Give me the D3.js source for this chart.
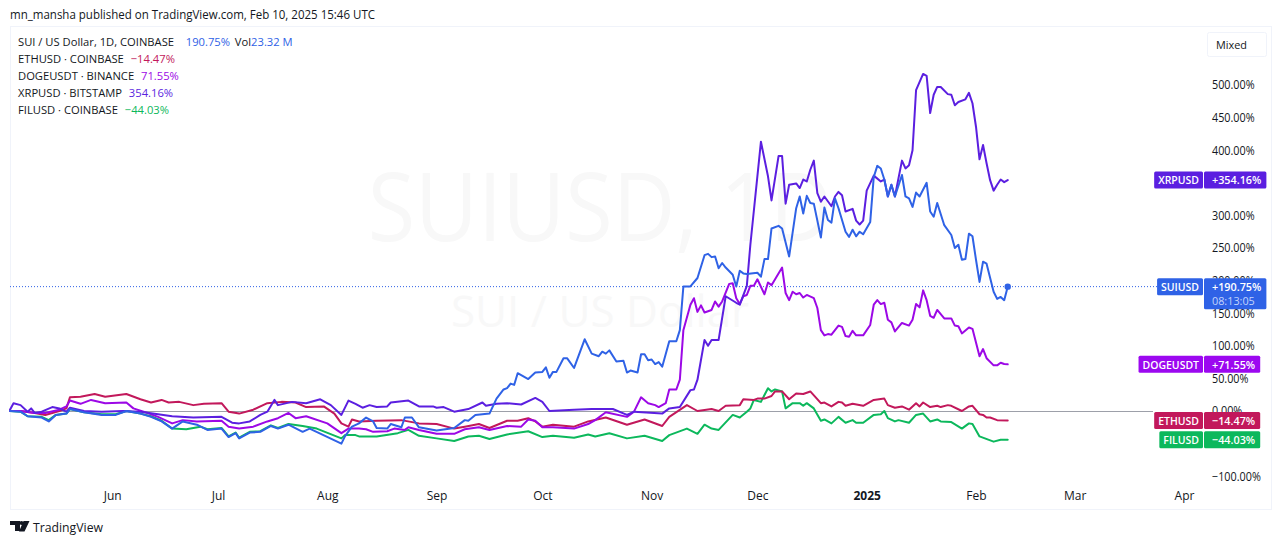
<!DOCTYPE html>
<html>
<head>
<meta charset="utf-8">
<script src="https://d3js.org/d3.v7.min.js"></script>
<style>
  html, body { margin: 0; padding: 0; background: #fff; }
  svg { display: block; }
  text { font-family: "Open Sans", "Noto Sans", sans-serif; }
</style>
</head>
<body>
<svg id="chart"></svg>
<script>
// [days since 3 May 2024, % change]
const suiPoints = [[0,0],[3,-1],[5,-8],[9,-10],[11,-16],[13,-6],[16,-4],[17,3],[21,-2],[26,-6],[30,-6],[33,0],[37,-4],[40,-9],[43,-16],[46,-27],[49,-16],[53,-21],[56,-29],[60,-27],[62,-40],[64,-34],[65,-42],[68,-33],[71,-32],[74,-23],[76,-27],[79,-21],[83,-32],[85,-27],[94,-50],[95,-39],[97,-24],[99,-19],[101,-10],[103,-16],[104,-26],[107,-27],[108,-20],[111,-25],[112,-10],[114,-10],[116,-25],[121,-30],[126,-26],[129,-14],[130,-15],[132,-6],[136,-4],[138,19],[140,33],[141,35],[142,42],[143,40],[144,58],[147,49],[149,59],[151,60],[152,67],[153,51],[154,60],[155,60],[157,81],[158,81],[160,66],[163,110],[165,88],[167,84],[168,91],[169,88],[170,93],[172,76],[174,77],[175,59],[176,62],[178,59],[179,87],[180,87],[181,78],[182,79],[183,72],[184,75],[185,68],[187,107],[189,107],[190,124],[191,191],[193,191],[195,204],[197,239],[198,241],[199,236],[200,237],[201,219],[202,227],[203,220],[205,209],[206,191],[207,215],[208,211],[209,210],[212,212],[213,206],[214,233],[215,233],[216,280],[218,284],[219,280],[221,237],[223,311],[224,329],[225,303],[226,330],[227,319],[228,318],[230,266],[231,312],[232,293],[233,289],[234,326],[235,311],[237,275],[238,267],[239,278],[240,268],[241,275],[242,271],[244,290],[245,359],[246,376],[247,372],[248,355],[249,329],[250,347],[251,329],[253,362],[254,329],[255,326],[256,313],[257,335],[258,329],[260,350],[261,306],[262,298],[263,319],[265,285],[267,270],[268,250],[269,255],[270,232],[271,233],[272,272],[273,268],[274,232],[275,198],[276,229],[277,226],[279,183],[280,172],[281,175],[282,170],[283,190.75]];
const ethPoints = [[0,0],[3,0],[7,-3],[10,-6],[14,0],[16,4],[17,21],[20,22],[24,26],[27,22],[33,26],[37,18],[40,13],[43,17],[45,13],[48,14],[52,9],[55,11],[60,12],[62,-1],[65,-4],[69,2],[73,12],[77,14],[81,13],[84,6],[89,7],[92,-4],[94,-19],[96,-24],[97,-13],[99,-16],[104,-15],[111,-14],[116,-19],[121,-20],[126,-27],[129,-24],[133,-20],[136,-26],[141,-15],[144,-15],[147,-11],[149,-16],[151,-24],[154,-21],[160,-24],[164,-16],[169,-10],[175,-21],[180,-13],[185,-23],[187,-9],[192,9],[195,0],[199,3],[201,0],[203,8],[207,9],[208,18],[211,17],[212,19],[214,19],[216,23],[217,30],[219,30],[221,18],[223,27],[225,26],[227,30],[230,12],[231,13],[233,7],[235,14],[236,13],[237,8],[239,11],[242,8],[245,17],[248,19],[249,9],[251,5],[253,7],[255,2],[257,12],[258,7],[259,13],[261,6],[263,8],[264,6],[266,9],[267,8],[270,0],[272,7],[273,8],[275,-5],[276,-6],[277,-10],[278,-10],[280,-14],[283,-14.47]];
const dogePoints = [[0,0],[3,0],[7,-3],[10,-3],[14,2],[16,7],[17,16],[20,11],[23,17],[27,12],[33,13],[35,4],[39,-3],[42,-9],[46,-19],[49,-14],[53,-16],[60,-15],[62,-24],[65,-27],[69,-24],[73,-16],[76,-11],[79,-3],[81,-11],[84,-8],[90,-19],[94,-34],[96,-27],[99,-27],[101,-28],[103,-32],[107,-31],[109,-27],[112,-29],[113,-25],[116,-29],[121,-35],[126,-35],[129,-28],[133,-25],[136,-29],[141,-23],[145,-24],[147,-13],[149,-15],[151,-25],[154,-25],[160,-27],[164,-20],[166,-14],[169,-2],[175,-9],[177,-1],[179,21],[181,12],[183,9],[184,6],[186,12],[187,33],[189,33],[190,48],[191,124],[193,163],[194,173],[195,152],[196,162],[197,151],[199,155],[200,168],[201,160],[202,168],[204,195],[205,196],[206,173],[207,164],[208,176],[209,178],[210,192],[211,192],[212,202],[214,179],[215,197],[216,193],[219,220],[220,181],[221,170],[222,183],[223,179],[224,181],[225,174],[226,178],[228,173],[229,158],[230,124],[231,116],[232,118],[233,117],[235,131],[236,129],[237,115],[238,114],[239,123],[240,116],[242,116],[244,132],[245,163],[246,170],[247,164],[248,166],[249,140],[250,136],[251,122],[253,135],[255,131],[256,140],[257,164],[258,159],[259,185],[260,170],[261,146],[262,143],[263,155],[265,142],[267,142],[268,131],[269,130],[270,119],[272,128],[273,126],[275,84],[276,95],[277,81],[279,70],[280,70],[281,74],[282,72],[283,71.55]];
const xrpPoints = [[0,2],[1,12],[3,9],[5,-1],[6,4],[7,-3],[9,-1],[12,6],[14,4],[16,-1],[17,5],[21,0],[26,-1],[32,0],[37,-1],[42,-5],[46,-8],[52,-10],[60,-9],[63,-18],[65,-19],[68,-16],[71,-6],[73,-1],[75,17],[76,9],[80,14],[84,12],[88,18],[91,9],[94,-6],[96,16],[98,11],[100,5],[102,9],[104,6],[107,7],[108,13],[113,16],[116,7],[120,7],[121,5],[123,6],[126,-1],[130,3],[134,13],[135,8],[138,11],[141,12],[145,10],[149,20],[151,14],[153,0],[160,2],[165,3],[171,3],[175,-6],[177,-1],[185,-4],[187,4],[190,6],[193,32],[194,33],[195,48],[197,109],[198,100],[199,109],[201,109],[203,176],[206,166],[207,163],[209,192],[210,255],[213,413],[215,360],[216,323],[218,391],[219,391],[220,318],[221,347],[223,349],[224,342],[225,355],[226,352],[227,370],[228,384],[229,334],[230,321],[231,329],[233,314],[234,329],[235,336],[236,331],[237,306],[239,310],[240,292],[241,286],[242,292],[243,338],[245,361],[247,352],[248,355],[249,329],[250,347],[251,329],[253,384],[254,372],[255,377],[256,400],[257,492],[259,517],[260,514],[261,457],[262,485],[263,497],[264,497],[266,486],[267,485],[268,469],[269,474],[271,478],[272,488],[273,472],[274,436],[275,386],[276,408],[277,380],[278,354],[279,338],[280,347],[281,355],[282,351],[283,354.16]];
const filPoints = [[0,0],[3,-1],[5,-8],[9,-9],[11,-14],[13,-6],[16,-4],[17,3],[21,-2],[26,-5],[30,-5],[33,0],[37,-4],[40,-8],[43,-15],[46,-27],[50,-28],[54,-24],[56,-28],[60,-26],[62,-39],[64,-33],[65,-41],[68,-32],[71,-31],[74,-22],[76,-26],[79,-20],[83,-23],[87,-27],[94,-42],[95,-37],[98,-37],[99,-39],[104,-39],[110,-34],[113,-29],[116,-38],[121,-42],[126,-46],[130,-39],[133,-38],[136,-43],[141,-36],[147,-31],[151,-40],[154,-38],[160,-41],[164,-36],[166,-39],[170,-34],[175,-42],[180,-38],[185,-46],[187,-37],[192,-27],[195,-35],[197,-21],[199,-27],[201,-29],[205,-6],[207,-10],[209,-1],[210,4],[211,17],[213,14],[215,35],[216,30],[217,33],[219,30],[220,4],[222,12],[224,12],[225,8],[226,12],[228,4],[230,-15],[231,-13],[233,-19],[235,-9],[237,-18],[239,-14],[240,-18],[242,-18],[245,-6],[247,-5],[248,0],[249,-11],[251,-16],[252,-14],[255,-18],[257,-6],[259,-4],[261,-16],[263,-13],[264,-16],[267,-17],[270,-27],[272,-19],[273,-20],[275,-39],[279,-47],[281,-44],[283,-44.03]];

// 350 and -50 sit fully under the badges in the picture, so they are not listed
const yTicks = [-100, 0, 50, 100, 150, 200, 250, 300, 400, 450, 500];
const xTickDates = ["2024-06-01","2024-07-01","2024-08-01","2024-09-01","2024-10-01","2024-11-01","2024-12-01","2025-01-01","2025-02-01","2025-03-01","2025-04-01"];
const xTickLabels = ["Jun","Jul","Aug","Sep","Oct","Nov","Dec","2025","Feb","Mar","Apr"];

const legendNames = ["SUI / US Dollar, 1D, COINBASE","ETHUSD · COINBASE","DOGEUSDT · BINANCE","XRPUSD · BITSTAMP","FILUSD · COINBASE"];
const legendValues = ["190.75%","−14.47%","71.55%","354.16%","−44.03%"];
const badgeNames = ["FILUSD","ETHUSD","DOGEUSDT","XRPUSD","SUIUSD"];
const badgeValues = [-44.03, -14.47, 71.55, 354.16, 190.75];
const badgeLabels = ["−44.03%","−14.47%","+71.55%","+354.16%","+190.75%"];

const colors = { sui: "#2f62e6", eth: "#c2185b", doge: "#9c08e6", xrp: "#5b1fe0", fil: "#0cb85c" };

const width = 1281, height = 545;
const svg = d3.select("#chart").attr("width", width).attr("height", height);

const startDate = new Date(Date.UTC(2024, 4, 3));
const toDate = day => d3.utcDay.offset(startDate, day);

const x = d3.scaleUtc().domain([startDate, new Date(Date.UTC(2025, 3, 1))]).range([10, 1184]);
const y = d3.scaleLinear().domain([-100, 500]).range([476.2, 85]);

// the installed fonts run wider than the reference one, so narrow the glyphs a bit
function squeeze(selection, factor) {
  selection.each(function() {
    this.setAttribute("textLength", this.getComputedTextLength() * factor);
    this.setAttribute("lengthAdjust", "spacingAndGlyphs");
  });
  return selection;
}

// header
svg.append("text").attr("x", 10).attr("y", 19).attr("font-size", 12.5).attr("fill", "#131722")
  .attr("textLength", 365).attr("lengthAdjust", "spacingAndGlyphs")
  .text("mn_mansha published on TradingView.com, Feb 10, 2025 15:46 UTC");

// frame
svg.append("rect").attr("x", 10.5).attr("y", 26.5).attr("width", 1261).attr("height", 483)
  .attr("fill", "#fff").attr("stroke", "#f0f3fa");

// watermark
squeeze(svg.append("text").attr("x", 600).attr("y", 241).attr("text-anchor", "middle")
  .attr("font-size", 95).attr("fill", "#f8f8f8").text("SUIUSD, 1D"), 0.91);
svg.append("text").attr("x", 600).attr("y", 327).attr("text-anchor", "middle")
  .attr("font-size", 44).attr("fill", "#f8f8f8").text("SUI / US Dollar");

// axes
const yAxis = d3.axisRight(y).tickValues(yTicks).tickSize(0).tickPadding(0)
  .tickFormat(d => (d < 0 ? "−" + Math.abs(d) : d) + ".00%");
const yG = svg.append("g").attr("transform", "translate(1212,0)").call(yAxis);
yG.select(".domain").remove();
squeeze(yG.selectAll("text").attr("font-size", 12).attr("fill", "#131722"), 0.9);

const xAxis = d3.axisBottom(x).tickValues(xTickDates.map(d => new Date(d))).tickSize(0).tickPadding(0)
  .tickFormat((d, i) => xTickLabels[i]);
const xG = svg.append("g").attr("transform", "translate(0,491)").call(xAxis);
xG.select(".domain").remove();
xG.selectAll("text").attr("font-size", 12).attr("fill", "#131722")
  .attr("font-weight", (d, i) => xTickLabels[i] === "2025" ? 700 : 400);

// baseline and last price line
svg.append("line").attr("x1", 10).attr("x2", 1153).attr("y1", 0.5 + Math.floor(y(0))).attr("y2", 0.5 + Math.floor(y(0)))
  .attr("stroke", "#9da0a9").attr("stroke-width", 1);
svg.append("line").attr("x1", 10).attr("x2", 1157).attr("y1", y(190.75)).attr("y2", y(190.75))
  .attr("stroke", colors.sui).attr("stroke-width", 1).attr("stroke-dasharray", "1,2");

// series
const line = d3.line().x(d => x(toDate(d[0]))).y(d => y(d[1]));
[[filPoints, colors.fil], [ethPoints, colors.eth], [dogePoints, colors.doge], [xrpPoints, colors.xrp], [suiPoints, colors.sui]]
  .forEach(([points, color]) => {
    svg.append("path").datum(points)
      .attr("fill", "none").attr("stroke", color).attr("stroke-width", 2)
      .attr("stroke-linejoin", "round").attr("stroke-linecap", "round")
      .attr("d", line);
  });

svg.append("circle").attr("cx", x(toDate(283))).attr("cy", y(190.75)).attr("r", 3.2).attr("fill", colors.sui);

// legend
const legendColors = [colors.sui, colors.eth, colors.doge, colors.xrp, colors.fil];
const legend = svg.append("g").selectAll("text").data(legendNames).join("text")
  .attr("transform", (d, i) => `translate(18,${46 + i * 17}) scale(0.975,1)`)
  .attr("font-size", 11.5).attr("fill", "#131722");
legend.append("tspan").text(d => d);
legend.append("tspan").attr("dx", (d, i) => i === 0 ? 12 : 7).attr("fill", (d, i) => legendColors[i]).text((d, i) => legendValues[i]);
legend.filter((d, i) => i === 0).append("tspan").attr("dx", 5).text("Vol");
legend.filter((d, i) => i === 0).append("tspan").attr("fill", colors.sui).text("23.32 M");

// Mixed button
svg.append("rect").attr("x", 1207.5).attr("y", 32.5).attr("width", 59).attr("height", 24).attr("rx", 2)
  .attr("fill", "#fff").attr("stroke", "#f0f3fa");
svg.append("text").attr("x", 1216).attr("y", 49).attr("font-size", 11.5).attr("fill", "#131722")
  .attr("textLength", 31).attr("lengthAdjust", "spacingAndGlyphs").text("Mixed");

// price scale badges
const badgeColors = [colors.fil, colors.eth, "#9c08f0", "#5b1fe0", "#2f62e6"];
badgeNames.forEach((name, i) => {
  const cy = y(badgeValues[i]);
  const g = svg.append("g");
  const nameRect = g.append("rect").attr("y", cy - 8.5).attr("height", 17).attr("rx", 1.5).attr("fill", badgeColors[i]);
  const nameText = g.append("text").attr("x", 1199).attr("y", cy + 4.2).attr("text-anchor", "end")
    .attr("font-size", 11.5).attr("font-weight", 600).attr("fill", "#fff").text(name);
  const nameW = nameText.node().getComputedTextLength() * 0.91;
  squeeze(nameText, 0.91);
  nameRect.attr("x", 1203 - nameW - 8).attr("width", nameW + 8);

  const valueRect = g.append("rect").attr("x", 1204).attr("y", cy - 8.5).attr("rx", 1.5)
    .attr("height", name === "SUIUSD" ? 31 : 17).attr("fill", badgeColors[i]);
  const valueText = g.append("text").attr("x", 1212).attr("y", cy + 4.2)
    .attr("font-size", 11.5).attr("font-weight", 600).attr("fill", "#fff").text(badgeLabels[i]);
  const valueW = valueText.node().getComputedTextLength() * 0.94;
  squeeze(valueText, 0.94);
  valueRect.attr("width", valueW + 13);

  if (name === "SUIUSD") {
    squeeze(g.append("text").attr("x", 1212).attr("y", cy + 18.5).attr("font-size", 11.5)
      .attr("fill", "#c4d4fb").text("08:13:05"), 0.94);
  }
});

// footer logo
svg.append("path").attr("fill", "#131722")
  .attr("d", "M10 521h10v10h-5v-6h-5z M23.5 521h6l-5 10.5h-5.5z");
svg.append("circle").attr("cx", 21.5).attr("cy", 523).attr("r", 1.9).attr("fill", "#131722");
svg.append("text").attr("x", 33).attr("y", 532).attr("font-size", 13.5).attr("fill", "#131722")
  .attr("textLength", 70).attr("lengthAdjust", "spacingAndGlyphs").text("TradingView");
</script>
</body>
</html>
